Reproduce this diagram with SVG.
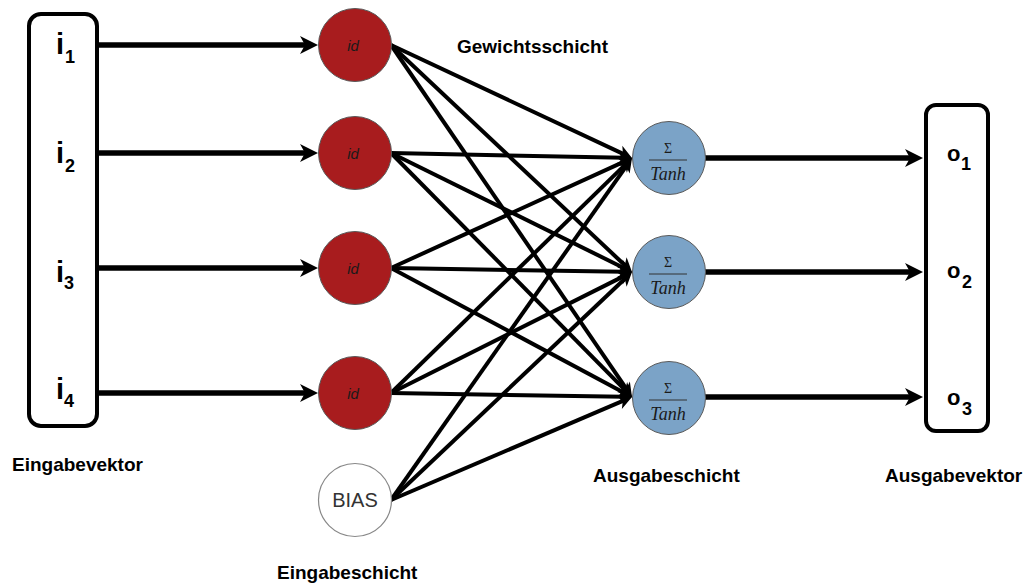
<svg xmlns="http://www.w3.org/2000/svg" width="1026" height="585" viewBox="0 0 1026 585">
<style>
.lbl{font-family:"Liberation Sans",Arial,sans-serif;font-weight:bold;font-size:19px;fill:#000}
.big{font-family:"Liberation Sans",Arial,sans-serif;font-weight:bold;font-size:29px;fill:#000}
.sub{font-family:"Liberation Sans",Arial,sans-serif;font-weight:bold;font-size:18px;fill:#000}
.obig{font-family:"Liberation Sans",Arial,sans-serif;font-weight:bold;font-size:22px;fill:#000}
.box{fill:#fff;stroke:#000;stroke-width:4}
.red{fill:#A81C1E;stroke:#5a5a5a;stroke-width:1}
.blue{fill:#7BA3C7;stroke:#5a5a5a;stroke-width:1}
.bias{fill:#fff;stroke:#888;stroke-width:1.2}
.id{font-family:"Liberation Sans",Arial,sans-serif;font-style:italic;font-size:15px;fill:#1a1a1a;text-anchor:middle}
.sig{font-family:"Liberation Serif","Times New Roman",serif;font-size:14px;fill:#1a1a1a;text-anchor:middle}
.tanh{font-family:"Liberation Serif","Times New Roman",serif;font-style:italic;font-size:18px;fill:#1a1a1a;text-anchor:middle}
.thick{stroke:#000;stroke-width:5.5;fill:none;marker-end:url(#ah)}
.w{stroke:#000;stroke-width:4;fill:none;marker-end:url(#as)}
</style>
<defs>
<marker id="ah" markerUnits="userSpaceOnUse" markerWidth="20" markerHeight="20" viewBox="0 -10 20 20" refX="8" refY="0" orient="auto" overflow="visible">
<path d="M0,-9 L18,0 L0,9 L5,0 Z" fill="#000"/>
</marker>
<marker id="as" markerUnits="userSpaceOnUse" markerWidth="16" markerHeight="16" viewBox="0 -8 16 16" refX="6" refY="0" orient="auto" overflow="visible">
<path d="M0,-7 L14,0 L0,7 L4,0 Z" fill="#000"/>
</marker>
</defs>
<rect width="1026" height="585" fill="#fff"/>

<g id="connectors">
<line class="thick" x1="99" y1="45" x2="308" y2="45"/>
<line class="thick" x1="99" y1="153" x2="308" y2="153"/>
<line class="thick" x1="99" y1="268" x2="308" y2="268"/>
<line class="thick" x1="99" y1="393" x2="308" y2="393"/>
<line class="thick" x1="705" y1="158" x2="913" y2="158"/>
<line class="thick" x1="705" y1="272" x2="913" y2="272"/>
<line class="thick" x1="705" y1="397" x2="913" y2="397"/>

<line class="w" x1="391" y1="45" x2="624.76" y2="154.60"/>
<line class="w" x1="391" y1="153" x2="624.0" y2="157.83"/>
<line class="w" x1="391" y1="268" x2="624.72" y2="161.32"/>
<line class="w" x1="391" y1="393" x2="626.27" y2="163.59"/>
<line class="w" x1="391" y1="500" x2="627.39" y2="164.54"/>

<line class="w" x1="391" y1="45" x2="626.18" y2="266.52"/>
<line class="w" x1="391" y1="153" x2="624.83" y2="268.46"/>
<line class="w" x1="391" y1="268" x2="624.0" y2="271.87"/>
<line class="w" x1="391" y1="393" x2="624.85" y2="275.59"/>
<line class="w" x1="391" y1="500" x2="626.19" y2="277.50"/>

<line class="w" x1="391" y1="45" x2="627.48" y2="390.40"/>
<line class="w" x1="391" y1="153" x2="626.38" y2="391.31"/>
<line class="w" x1="391" y1="268" x2="624.95" y2="393.23"/>
<line class="w" x1="391" y1="393" x2="624.0" y2="396.87"/>
<line class="w" x1="391" y1="500" x2="624.64" y2="400.14"/>
</g>

<g id="eingabevektor">
<rect class="box" x="29" y="14" width="68" height="412" rx="12"/>
<text class="big" x="56" y="54">i</text><text class="sub" x="65" y="63">1</text>
<text class="big" x="56" y="163">i</text><text class="sub" x="65" y="172">2</text>
<text class="big" x="56" y="282">i</text><text class="sub" x="64" y="289">3</text>
<text class="big" x="56" y="399">i</text><text class="sub" x="64" y="407">4</text>
<text class="lbl" x="12" y="471">Eingabevektor</text>
</g>

<g id="in1"><circle class="red" cx="355" cy="45" r="36.5"/><text class="id" x="353" y="51">id</text></g>
<g id="in2"><circle class="red" cx="355" cy="153" r="36.5"/><text class="id" x="353" y="159">id</text></g>
<g id="in3"><circle class="red" cx="355" cy="268" r="36.5"/><text class="id" x="353" y="274">id</text></g>
<g id="in4"><circle class="red" cx="355" cy="393" r="36.5"/><text class="id" x="353" y="399">id</text></g>
<g id="bias"><circle class="bias" cx="355" cy="500" r="36.5"/><text x="355" y="507" text-anchor="middle" font-family="Liberation Sans, Arial, sans-serif" font-size="20" fill="#333">BIAS</text></g>

<g id="out1"><circle class="blue" cx="669" cy="158" r="36.5"/><text class="sig" x="668" y="153">Σ</text><line x1="649" y1="160" x2="687" y2="160" stroke="#333" stroke-width="1"/><text class="tanh" x="668" y="180">Tanh</text></g>
<g id="out2"><circle class="blue" cx="669" cy="272" r="36.5"/><text class="sig" x="668" y="267">Σ</text><line x1="649" y1="274" x2="687" y2="274" stroke="#333" stroke-width="1"/><text class="tanh" x="668" y="294">Tanh</text></g>
<g id="out3"><circle class="blue" cx="669" cy="398" r="36.5"/><text class="sig" x="668" y="393">Σ</text><line x1="649" y1="400" x2="687" y2="400" stroke="#333" stroke-width="1"/><text class="tanh" x="668" y="420">Tanh</text></g>

<g id="ausgabevektor">
<rect class="box" x="926" y="105" width="62" height="326" rx="10"/>
<text class="obig" x="947" y="161">o</text><text class="sub" x="961" y="170">1</text>
<text class="obig" x="947" y="278">o</text><text class="sub" x="962" y="288">2</text>
<text class="obig" x="947" y="405">o</text><text class="sub" x="962" y="415">3</text>
</g>

<g id="labels">
<text class="lbl" x="457" y="53">Gewichtsschicht</text>
<text class="lbl" x="593" y="482">Ausgabeschicht</text>
<text class="lbl" x="885" y="482">Ausgabevektor</text>
<text class="lbl" x="277" y="579">Eingabeschicht</text>
</g>
</svg>
